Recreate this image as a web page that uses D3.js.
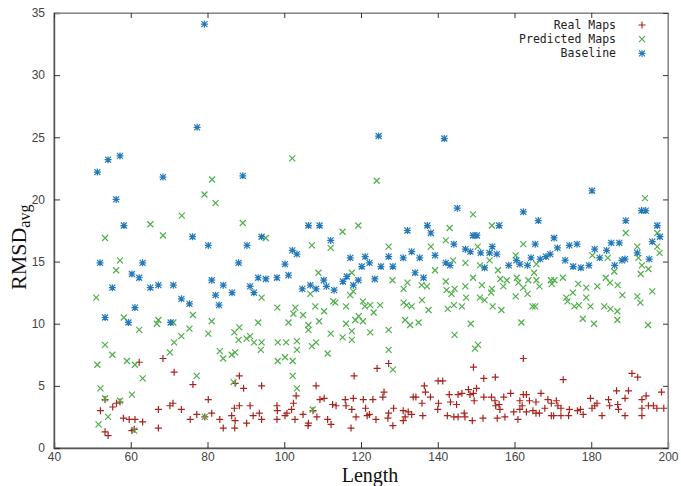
<!DOCTYPE html>
<html>
<head>
<meta charset="utf-8">
<script src="https://cdn.jsdelivr.net/npm/d3@7"></script>
<style>
  body { margin: 0; background: #fff; }
</style>
</head>
<body>
<script>
// Datos: [longitud, RMSD]
const realMaps = [
  [52.1,3.0],[53.3,3.9],[53.3,1.3],[54.1,1.0],[55.3,3.3],[56.3,3.6],[57.2,3.7],[58.1,2.4],[59.6,2.3],
  [60.3,1.4],[60.9,1.5],[61.1,2.3],[62.2,6.9],[63.1,2.1],[67.2,3.1],[67.2,1.6],[68.4,7.2],[70.2,3.4],
  [71.0,3.6],[71.3,6.1],[73.2,3.1],[75.5,2.3],[76.2,5.1],[77.2,2.7],[79.3,2.5],[80.2,3.9],[81.1,2.8],
  [83.2,2.3],[84.1,1.6],[86.3,2.6],[87.2,5.2],[87.0,3.2],[87.1,1.6],[87.2,2.2],[88.3,5.8],[88.3,3.4],
  [89.4,4.8],[90.2,2.0],[91.1,3.4],[91.9,2.6],[93.5,2.8],[94.1,5.0],[94.1,2.3],[98.1,3.4],[98.2,3.0],
  [98.1,2.3],[100.2,2.6],[100.7,2.8],[101.9,3.1],[102.4,3.6],[103.1,4.2],[102.8,2.3],[104.9,2.7],
  [106.3,2.0],[106.2,1.8],[107.5,3.0],[108.3,5.0],[108.5,2.5],[109.3,3.9],[110.4,4.0],[111.3,2.3],
  [112.2,1.9],[112.6,3.5],[113.5,3.4],[115.9,3.9],[116.1,3.4],[117.6,3.1],[118.0,4.0],[117.4,1.6],
  [118.2,5.8],[118.7,2.5],[120.6,3.9],[121.2,3.2],[121.6,2.6],[122.2,2.7],[123.1,3.9],[123.9,2.3],
  [124.2,6.4],[126.0,4.5],[125.7,4.1],[127.2,6.8],[127.2,2.8],[127.0,2.4],[128.3,1.8],[128.5,3.2],
  [131.0,3.0],[131.5,2.5],[131.0,2.2],[132.3,2.9],[133.2,2.7],[133.6,4.1],[134.3,4.1],[135.9,3.6],
  [136.1,2.6],[136.5,5.0],[136.8,4.5],[138.1,4.1],[140.1,5.4],[140.2,3.6],[140.0,3.1],[141.3,5.4],
  [142.5,2.6],[143.0,4.3],[143.3,3.7],[144.2,2.5],[145.3,4.3],[144.9,3.5],[145.3,2.5],[146.3,4.4],
  [146.9,2.8],[147.1,2.5],[148.0,4.7],[148.4,4.3],[149.3,4.4],[149.3,6.5],[149.5,3.8],[149.0,2.2],
  [150.1,4.8],[151.8,2.4],[152.0,5.6],[152.0,4.1],[154.0,4.1],[154.9,3.8],[155.1,3.4],[155.0,5.7],
  [155.5,2.4],[156.0,3.5],[156.2,3.1],[157.2,4.1],[157.5,2.5],[159.0,4.4],[159.8,2.9],[160.9,2.3],
  [161.4,3.8],[161.4,3.1],[162.0,3.4],[162.3,7.2],[162.3,4.3],[163.1,4.3],[163.1,2.9],[163.9,3.8],
  [164.8,3.0],[165.6,3.7],[165.6,2.8],[166.5,2.8],[166.9,4.4],[167.9,3.2],[168.7,3.9],[169.6,3.6],
  [169.6,2.6],[170.2,2.6],[170.9,3.8],[171.3,3.4],[172.1,3.2],[172.1,2.6],[172.7,5.5],[174.3,3.1],
  [174.1,2.6],[176.4,3.0],[177.2,3.1],[177.9,2.7],[179.8,4.0],[180.2,3.2],[180.9,3.4],[181.5,3.6],
  [182.8,2.6],[184.5,3.9],[184.8,3.4],[186.6,4.6],[186.9,3.5],[187.1,3.1],[188.8,4.0],[189.7,4.6],
  [188.8,2.6],[190.6,6.0],[192.1,5.7],[193.2,3.9],[193.2,3.2],[193.2,2.6],[194.3,4.2],[194.9,3.4],
  [196.2,3.4],[197.1,3.2],[198.3,4.5],[198.9,3.2]
];

const predictedMaps = [
  [51.0,12.1],[51.3,6.7],[51.6,1.9],[52.1,4.8],[53.3,4.0],[53.3,8.3],[53.3,16.9],[54.1,2.5],[55.2,7.5],
  [56.2,14.3],[57.2,3.8],[57.2,15.1],[58.2,10.5],[59.0,7.0],[60.3,4.3],[60.9,1.4],[61.1,6.7],[62.2,9.5],
  [63.1,5.6],[65.1,18.0],[67.2,10.3],[66.8,10.0],[68.4,17.1],[70.2,7.7],[71.1,10.1],[71.3,8.5],
  [73.2,9.0],[73.3,18.7],[75.3,9.6],[76.2,10.7],[77.2,5.8],[79.2,20.4],[79.3,2.5],[80.2,9.2],[81.1,10.2],
  [81.2,21.6],[82.1,19.7],[83.2,7.8],[84.1,7.2],[86.3,7.5],[86.8,5.3],[87.2,7.7],[87.0,9.3],[88.3,9.7],
  [88.1,8.7],[89.2,18.1],[90.2,8.8],[91.1,9.0],[92.1,8.5],[93.2,10.1],[94.1,8.5],[93.9,7.9],[94.1,12.1],
  [95.2,16.9],[98.2,11.3],[98.3,8.5],[98.3,7.0],[100.2,7.3],[100.5,8.5],[101.1,10.1],[102.1,23.3],
  [102.2,7.0],[102.2,5.8],[102.4,10.8],[102.9,11.3],[103.3,8.6],[103.3,7.9],[103.3,4.8],[104.9,10.7],
  [106.3,9.9],[106.3,9.5],[106.8,12.4],[107.2,16.3],[107.2,8.2],[107.4,3.1],[108.1,11.4],[108.3,8.5],
  [108.9,14.1],[109.1,10.2],[110.4,11.0],[111.3,7.6],[112.1,9.2],[112.1,16.1],[112.8,11.8],[113.3,11.7],
  [115.2,17.4],[115.2,8.9],[116.1,10.0],[116.1,11.4],[117.2,12.3],[117.6,8.7],[117.6,9.4],[117.6,14.1],
  [118.0,12.6],[118.5,10.3],[119.3,17.9],[119.4,10.6],[120.5,11.8],[120.5,10.2],[121.0,11.4],[122.4,9.3],
  [122.4,11.5],[123.3,10.9],[124.1,21.5],[125.0,11.5],[127.2,9.5],[127.2,7.9],[127.2,16.2],[128.2,13.5],
  [128.3,6.3],[131.1,12.8],[131.1,11.7],[131.5,10.3],[131.9,11.5],[132.1,13.3],[132.8,9.9],[133.2,11.4],
  [135.0,10.1],[135.8,13.1],[135.9,11.9],[137.2,13.0],[137.6,11.1],[138.2,16.2],[139.3,14.3],[142.1,16.7],
  [142.1,13.4],[142.3,12.7],[142.6,11.2],[143.1,17.7],[143.6,12.4],[144.0,15.1],[144.2,11.5],[144.4,9.1],
  [144.4,12.8],[146.3,11.4],[147.2,14.9],[147.2,13.0],[147.4,12.1],[148.6,10.0],[149.2,18.8],[149.2,13.7],
  [149.7,8.0],[150.4,16.2],[150.5,8.3],[151.0,14.7],[151.0,12.1],[151.5,13.1],[152.2,11.9],[153.5,15.1],
  [153.9,12.5],[154.1,17.9],[154.1,12.8],[154.3,11.4],[155.7,14.3],[156.3,13.6],[156.6,11.1],[157.1,13.0],
  [158.0,13.5],[160.3,15.5],[160.3,12.2],[160.6,13.7],[161.0,13.3],[161.8,10.1],[162.3,16.4],[162.3,12.9],
  [163.4,12.4],[163.6,13.5],[164.7,11.4],[165.1,14.1],[165.4,11.4],[165.7,14.8],[165.7,13.5],[166.5,13.0],
  [169.5,13.5],[169.7,13.2],[170.4,13.5],[172.6,13.7],[173.5,12.1],[173.8,11.8],[175.2,12.5],[175.6,11.4],
  [176.6,13.2],[176.8,11.5],[177.8,10.4],[178.7,12.9],[178.7,12.1],[179.8,11.4],[180.3,15.5],[180.7,10.0],
  [181.6,13.0],[183.4,11.4],[183.8,13.7],[184.3,15.3],[184.9,13.3],[185.0,11.2],[186.0,14.2],[186.8,11.0],
  [186.8,10.3],[186.9,13.1],[188.1,12.3],[189.0,17.3],[192.0,16.2],[192.0,12.2],[192.3,15.3],[192.8,11.7],
  [192.9,14.0],[193.2,14.7],[194.0,20.1],[194.8,9.9],[194.9,14.4],[195.9,12.6],[197.2,17.3],[197.2,16.2],
  [197.8,15.7]
];

const baseline = [
  [51.3,22.2],[52.0,14.9],[53.3,10.5],[54.1,23.2],[55.2,12.9],[56.2,20.0],[57.2,23.5],[58.2,17.9],
  [59.4,10.1],[60.3,14.0],[61.1,11.3],[62.2,13.7],[63.1,14.9],[65.1,12.9],[67.2,13.1],[68.4,21.8],
  [70.4,10.1],[71.1,13.1],[73.2,12.0],[75.3,11.6],[76.1,17.0],[77.3,25.8],[79.2,34.1],[80.2,16.3],
  [81.1,13.5],[82.1,12.3],[83.0,11.5],[84.1,13.1],[86.4,12.5],[88.1,14.9],[89.2,21.9],[90.3,16.3],
  [91.1,13.0],[92.1,12.5],[93.2,13.7],[94.1,17.0],[95.2,13.6],[98.1,13.7],[100.2,14.8],[101.1,13.9],
  [102.1,15.9],[103.3,15.6],[104.7,12.8],[106.3,17.9],[106.8,13.1],[108.3,12.8],[109.2,17.9],[110.3,13.5],
  [111.0,13.0],[112.1,16.7],[113.0,12.7],[115.3,13.4],[116.3,13.8],[117.2,15.3],[118.0,13.1],[119.3,13.5],
  [120.2,14.6],[121.1,15.4],[122.2,14.9],[123.6,13.6],[124.6,25.1],[125.2,14.6],[127.2,15.4],[128.3,14.6],
  [131.0,15.3],[132.1,17.5],[133.2,15.8],[134.1,14.1],[135.3,15.3],[136.3,13.7],[137.3,17.9],[138.2,17.3],
  [139.3,15.5],[141.7,24.9],[142.1,14.9],[143.2,14.7],[144.2,16.4],[145.1,19.3],[147.2,16.0],[148.5,15.8],
  [149.2,17.1],[150.2,17.1],[151.2,15.7],[152.2,14.5],[153.5,15.7],[154.2,16.2],[155.4,15.6],[156.0,17.9],
  [158.5,14.7],[160.5,15.1],[161.4,14.8],[162.3,19.0],[163.4,14.7],[164.3,15.3],[165.4,16.4],[166.2,18.3],
  [166.7,15.2],[168.2,15.4],[169.3,15.6],[170.3,16.9],[171.2,16.1],[173.2,15.1],[174.3,16.3],[175.3,14.6],
  [176.3,16.4],[177.3,14.5],[179.4,14.7],[180.2,20.7],[180.9,16.0],[182.2,15.3],[184.0,15.9],[185.2,16.5],
  [186.1,14.7],[187.3,16.5],[188.0,15.1],[188.8,15.2],[189.0,18.3],[192.0,15.7],[193.1,19.1],[194.2,19.1],
  [195.1,15.2],[195.9,16.6],[197.2,17.9],[197.9,17.0]
];

const xTicks = [40, 60, 80, 100, 120, 140, 160, 180, 200];
const yTicks = [0, 5, 10, 15, 20, 25, 30, 35];
const seriesNames = ["Real Maps", "Predicted Maps", "Baseline"];
const seriesColors = ["#a8231d", "#4fae4a", "#2479b8"];

// Dimensiones
const width = 681;
const height = 486;
const margin = { left: 54, right: 668, top: 13, bottom: 448 };

const svg = d3.select("body")
    .append("svg")
    .attr("width", width)
    .attr("height", height);

const xScale = d3.scaleLinear().domain([40, 200]).range([margin.left, margin.right]);
const yScale = d3.scaleLinear().domain([0, 35]).range([margin.bottom, margin.top]);

// Formas de los puntos (estilo gnuplot)
const plusPath = "M-3.5,0H3.5M0,-3.5V3.5";
const crossPath = "M-3,-3L3,3M-3,3L3,-3";
const starPath = plusPath + crossPath;
const shapes = [plusPath, crossPath, starPath];

// Marco
svg.append("rect")
    .attr("x", margin.left).attr("y", margin.top)
    .attr("width", margin.right - margin.left).attr("height", margin.bottom - margin.top)
    .attr("fill", "none")
    .attr("stroke", "#777")
    .attr("stroke-width", 1);

// Ejes
const xAxis = d3.axisBottom(xScale).tickValues(xTicks).tickSize(-6).tickPadding(4);
const yAxis = d3.axisLeft(yScale).tickValues(yTicks).tickSize(-6).tickPadding(9);
const xAxisTop = d3.axisTop(xScale).tickValues(xTicks).tickSize(-5).tickFormat("");
const yAxisRight = d3.axisRight(yScale).tickValues(yTicks).tickSize(-5).tickFormat("");

svg.append("g").attr("transform", `translate(0,${margin.bottom})`).call(xAxis);
svg.append("g").attr("transform", `translate(${margin.left},0)`).call(yAxis);
svg.append("g").attr("class", "mirror").attr("transform", `translate(0,${margin.top})`).call(xAxisTop);
svg.append("g").attr("class", "mirror").attr("transform", `translate(${margin.right},0)`).call(yAxisRight);

svg.selectAll(".domain").attr("stroke", "#555").attr("stroke-width", 1.4);
svg.selectAll(".mirror .domain").attr("stroke", "#888").attr("stroke-width", 1);
svg.selectAll(".tick line").attr("stroke", "#333");
svg.selectAll(".tick text")
    .attr("fill", "#444")
    .style("font-family", "'Liberation Sans', Arial, sans-serif")
    .style("font-size", "12px");

// Series
[realMaps, predictedMaps, baseline].forEach((data, i) => {
    svg.append("g")
        .selectAll("path")
        .data(data)
        .enter()
        .append("path")
        .attr("d", shapes[i])
        .attr("transform", d => `translate(${xScale(d[0])},${yScale(d[1])})`)
        .attr("fill", "none")
        .attr("stroke", seriesColors[i])
        .attr("stroke-width", 1.2);
});

// Leyenda
const legend = svg.append("g");
seriesNames.forEach((name, i) => {
    const y = 25 + i * 14.2;
    legend.append("text")
        .attr("x", 616)
        .attr("y", y + 4)
        .attr("text-anchor", "end")
        .style("font-family", "'DejaVu Sans Mono', monospace")
        .style("font-size", "11.5px")
        .attr("fill", "#222")
        .text(name);
    legend.append("path")
        .attr("d", shapes[i])
        .attr("transform", `translate(642,${y})`)
        .attr("fill", "none")
        .attr("stroke", seriesColors[i])
        .attr("stroke-width", 1.1);
});

// Títulos de los ejes
svg.append("text")
    .attr("x", 370)
    .attr("y", 481.5)
    .attr("text-anchor", "middle")
    .style("font-family", "'Liberation Serif', 'Times New Roman', serif")
    .style("font-size", "20px")
    .attr("fill", "#111")
    .text("Length");

const yLabel = svg.append("text")
    .attr("transform", "translate(26,290) rotate(-90)")
    .style("font-family", "'Liberation Serif', 'Times New Roman', serif")
    .style("font-size", "22px")
    .attr("fill", "#111");
yLabel.append("tspan").text("RMSD");
yLabel.append("tspan").attr("dy", 4).style("font-size", "16px").text("avg");
</script>
</body>
</html>
